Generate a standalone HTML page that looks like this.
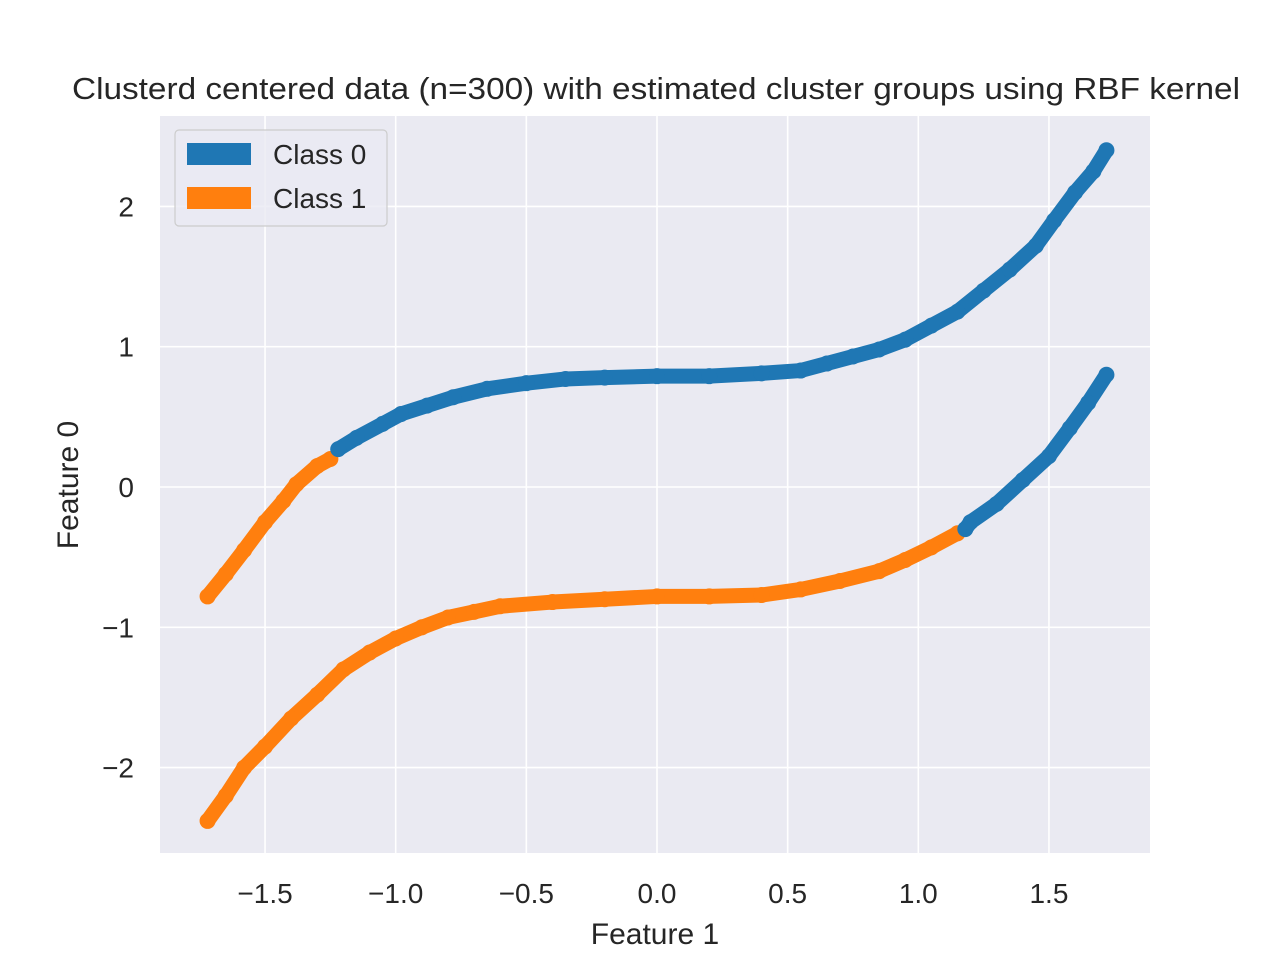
<!DOCTYPE html>
<html><head><meta charset="utf-8"><style>
body{margin:0;background:#fff}
svg{display:block;font-family:"Liberation Sans","DejaVu Sans",sans-serif}
</style></head><body>
<svg id="chart" width="1280" height="960" viewBox="0 0 1280 960">
<rect x="160" y="116" width="990" height="737" fill="#EAEAF2"/>
<g id="grid"></g>
<g id="marks"></g>
<g id="ticks"></g>
<text x="656" y="99" font-size="31" text-anchor="middle" fill="#262626" textLength="1168" lengthAdjust="spacingAndGlyphs">Clusterd centered data (n=300) with estimated cluster groups using RBF kernel</text>
<text x="655" y="944" font-size="30" text-anchor="middle" fill="#262626">Feature 1</text>
<text transform="translate(78,485) rotate(-90)" font-size="30" text-anchor="middle" fill="#262626">Feature 0</text>
<g>
<rect x="175" y="130" width="212" height="96" rx="4" fill="#EAEAF2" stroke="#cccccc" stroke-width="1.2" fill-opacity="0.8"/>
<rect x="187" y="143" width="64" height="22" fill="#1f77b4"/>
<text x="273" y="164" font-size="28" fill="#262626">Class 0</text>
<rect x="187" y="187" width="64" height="22" fill="#ff7f0e"/>
<text x="273" y="208" font-size="28" fill="#262626">Class 1</text>
</g>
</svg>
<script>
const xTicks=[-1.5,-1.0,-0.5,0.0,0.5,1.0,1.5];
const xTickLabels=["\u22121.5","\u22121.0","\u22120.5","0.0","0.5","1.0","1.5"];
const yTicks=[2,1,0,-1,-2];
const yTickLabels=["2","1","0","\u22121","\u22122"];
const upperX=[-1.72,-1.65,-1.58,-1.5,-1.43,-1.38,-1.3,-1.25,-1.22,-1.15,-1.05,-0.98,-0.88,-0.78,-0.65,-0.5,-0.35,-0.2,0,0.2,0.4,0.55,0.65,0.75,0.85,0.95,1.05,1.15,1.25,1.35,1.45,1.52,1.6,1.67,1.72];
const upperY=[-0.78,-0.62,-0.45,-0.25,-0.1,0.02,0.15,0.2,0.27,0.35,0.45,0.52,0.58,0.64,0.7,0.74,0.77,0.78,0.79,0.79,0.81,0.83,0.88,0.93,0.98,1.05,1.15,1.25,1.4,1.55,1.72,1.9,2.1,2.25,2.4];
const upperClass=[1,1,1,1,1,1,1,1,0,0,0,0,0,0,0,0,0,0,0,0,0,0,0,0,0,0,0,0,0,0,0,0,0,0,0];
const lowerX=[-1.72,-1.65,-1.58,-1.5,-1.4,-1.3,-1.2,-1.1,-1.0,-0.9,-0.8,-0.7,-0.6,-0.4,-0.2,0,0.2,0.4,0.55,0.7,0.85,0.95,1.05,1.15,1.18,1.2,1.3,1.4,1.5,1.58,1.65,1.72];
const lowerY=[-2.38,-2.2,-2.0,-1.85,-1.65,-1.48,-1.3,-1.18,-1.08,-1.0,-0.93,-0.89,-0.85,-0.82,-0.8,-0.78,-0.78,-0.77,-0.73,-0.67,-0.6,-0.52,-0.43,-0.33,-0.3,-0.25,-0.12,0.05,0.22,0.42,0.6,0.8];
const lowerClass=[1,1,1,1,1,1,1,1,1,1,1,1,1,1,1,1,1,1,1,1,1,1,1,1,0,0,0,0,0,0,0,0];
const colors=["#1f77b4","#ff7f0e"];
const NS="http://www.w3.org/2000/svg";
function sx(v){return 657+v*261.3;}
function sy(v){return 487-v*140.3;}
const grid=document.getElementById('grid'),ticks=document.getElementById('ticks'),marks=document.getElementById('marks');
xTicks.forEach((t,i)=>{
 const l=document.createElementNS(NS,'line');
 
 
 l.setAttribute('x1',sx(t));l.setAttribute('x2',sx(t));l.setAttribute('y1',116);l.setAttribute('y2',853);
 l.setAttribute('stroke','#fff');l.setAttribute('stroke-width','1.6');grid.appendChild(l);
 const tx=document.createElementNS(NS,'text');
 
 
 tx.setAttribute('x',sx(t));tx.setAttribute('y',903);tx.setAttribute('font-size','28');tx.setAttribute('text-anchor','middle');tx.setAttribute('fill','#262626');
 tx.textContent=xTickLabels[i];ticks.appendChild(tx);
});
yTicks.forEach((t,i)=>{
 const l=document.createElementNS(NS,'line');
 
 
 l.setAttribute('y1',sy(t));l.setAttribute('y2',sy(t));l.setAttribute('x1',160);l.setAttribute('x2',1150);
 l.setAttribute('stroke','#fff');l.setAttribute('stroke-width','1.6');grid.appendChild(l);
 const tx=document.createElementNS(NS,'text');
 
 
 tx.setAttribute('x',134);tx.setAttribute('y',sy(t)+10);tx.setAttribute('font-size','28');tx.setAttribute('text-anchor','end');tx.setAttribute('fill','#262626');
 tx.textContent=yTickLabels[i];ticks.appendChild(tx);
});
function drawCurve(xs,ys,cs,name){
 for(let i=0;i<xs.length-1;i++){
  if(cs[i]!==cs[i+1])continue;
  const l=document.createElementNS(NS,'line');
  
  
  l.setAttribute('x1',sx(xs[i]));l.setAttribute('y1',sy(ys[i]));l.setAttribute('x2',sx(xs[i+1]));l.setAttribute('y2',sy(ys[i+1]));
  l.setAttribute('stroke',colors[cs[i]]);l.setAttribute('stroke-width','15');l.setAttribute('stroke-linecap','round');
  marks.appendChild(l);
 }
 for(let i=0;i<xs.length;i++){
  const c=document.createElementNS(NS,'circle');
  
  
  c.setAttribute('cx',sx(xs[i]));c.setAttribute('cy',sy(ys[i]));c.setAttribute('r',8);c.setAttribute('fill',colors[cs[i]]);
  marks.appendChild(c);
 }
}
drawCurve(upperX,upperY,upperClass,'upper-curve');
drawCurve(lowerX,lowerY,lowerClass,'lower-curve');
</script>
</body></html>
